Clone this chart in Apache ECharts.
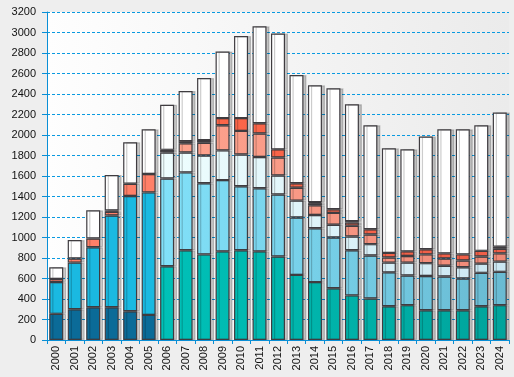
<!DOCTYPE html>
<html>
<head>
<meta charset="utf-8">
<script src="https://cdn.jsdelivr.net/npm/echarts@6/dist/echarts.min.js"></script>
<style>
  html, body { margin: 0; padding: 0; background: #eeeeee; }
  #chart { width: 514px; height: 377px; }
</style>
</head>
<body>
<div id="chart"></div>
<script>
const years = ['2000', '2001', '2002', '2003', '2004', '2005', '2006', '2007', '2008', '2009', '2010', '2011', '2012',
  '2013', '2014', '2015', '2016', '2017', '2018', '2019', '2020', '2021', '2022', '2023', '2024'];

// segments, bottom to top
const serA = [255, 300, 320, 320, 280, 245, 720, 875, 835, 865, 875, 865, 815, 635, 565, 505, 435, 405, 330, 340, 290, 290, 290, 330, 340];
const serB = [310, 455, 585, 895, 1125, 1195, 855, 760, 695, 695, 625, 615, 605, 560, 525, 495, 440, 420, 330, 290, 335, 330, 310, 325, 325];
const serC = [0, 0, 0, 0, 0, 0, 255, 195, 270, 290, 310, 305, 185, 165, 130, 125, 135, 110, 95, 125, 125, 105, 110, 90, 100];
const serD = [0, 0, 0, 0, 0, 0, 0, 90, 125, 245, 230, 230, 175, 125, 95, 115, 105, 95, 50, 65, 85, 70, 65, 70, 80];
const serE = [30, 40, 85, 35, 120, 180, 0, 20, 0, 70, 125, 100, 80, 45, 20, 35, 30, 50, 45, 45, 50, 50, 60, 55, 45];
const serF = [0, 0, 0, 15, 0, 0, 25, 0, 25, 0, 0, 0, 0, 0, 10, 0, 15, 0, 0, 0, 0, 0, 0, 0, 20];
const serG = [115, 180, 275, 345, 405, 435, 440, 490, 605, 650, 800, 945, 1130, 1055, 1140, 1180, 1140, 1015, 1020, 995, 1100, 1210, 1220, 1225, 1310];

const yTicks = { min: 0, max: 3200, step: 200 };

const myChart = echarts.init(document.getElementById('chart'));

// colours fade slightly from left to right across the plot
const grad = (c1, c2) => new echarts.graphic.LinearGradient(150, 0, 509, 0, [
  { offset: 0, color: c1 },
  { offset: 1, color: c2 }
], true);

const oldColors = { A: '#0b6b98', B: '#1ab9e1', E: '#ff8068' };

const toData = (arr, oldColor) => arr.map((v, i) => {
  if (!v) return '-';
  if (oldColor && i < 6) return { value: v, itemStyle: { color: oldColor } };
  return v;
});

const mkSeries = (name, arr, color, oldColor) => ({
  name: name,
  type: 'bar',
  stack: 'total',
  barWidth: 14,
  data: toData(arr, oldColor),
  itemStyle: {
    color: color,
    borderColor: '#3f3c40',
    borderWidth: 1.2,
    shadowColor: 'rgba(0,0,0,0.2)',
    shadowOffsetX: 3,
    shadowOffsetY: 0,
    shadowBlur: 0
  },
  emphasis: { disabled: true }
});

const option = {
  animation: false,
  backgroundColor: '#eeeeee',
  grid: {
    left: 47,
    right: 5,
    top: 12,
    bottom: 37,
    show: true,
    borderWidth: 0,
    backgroundColor: new echarts.graphic.LinearGradient(0, 0, 1, 0, [
      { offset: 0, color: '#fefefe' },
      { offset: 1, color: '#ebebeb' }
    ])
  },
  xAxis: {
    type: 'category',
    data: years,
    axisLine: { lineStyle: { color: '#0a8fd6', width: 1 } },
    axisTick: { show: true, length: 4, lineStyle: { color: '#0a8fd6' } },
    axisLabel: {
      rotate: 90,
      interval: 0,
      margin: 6,
      color: '#111',
      fontSize: 11,
      fontFamily: 'Liberation Sans, Arial, sans-serif'
    }
  },
  yAxis: {
    type: 'value',
    min: yTicks.min,
    max: yTicks.max,
    interval: yTicks.step,
    axisLine: { show: true, lineStyle: { color: '#0a8fd6', width: 1 } },
    axisTick: { show: true, length: 5, lineStyle: { color: '#0a8fd6' } },
    axisLabel: {
      margin: 11,
      color: '#111',
      fontSize: 11,
      fontFamily: 'Liberation Sans, Arial, sans-serif',
      formatter: v => String(v)
    },
    splitLine: {
      lineStyle: { color: '#0a9ae0', type: [3, 2], width: 1 }
    }
  },
  series: [
    mkSeries('A', serA, grad('#00c2b9', '#00a39b'), oldColors.A),
    mkSeries('B', serB, grad('#82e2fa', '#69bad2'), oldColors.B),
    mkSeries('C', serC, grad('#f0ffff', '#cae6f2')),
    mkSeries('D', serD, grad('#ffa590', '#ee8876')),
    mkSeries('E', serE, grad('#ff6849', '#ee5e48'), oldColors.E),
    mkSeries('F', serF, '#4a4448'),
    mkSeries('G', serG, '#ffffff')
  ]
};

myChart.setOption(option);
</script>
</body>
</html>
